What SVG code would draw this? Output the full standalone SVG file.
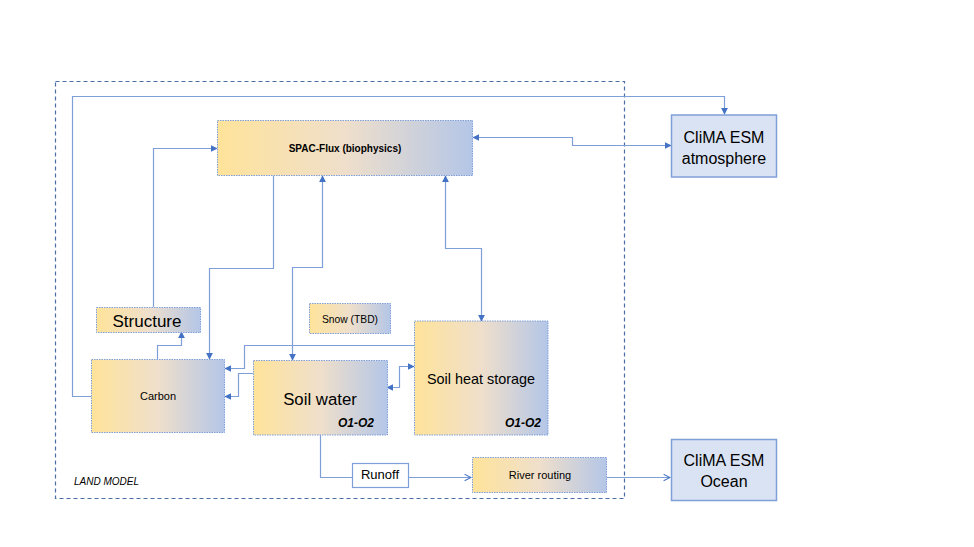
<svg xmlns="http://www.w3.org/2000/svg" width="974" height="547" viewBox="0 0 974 547">
<defs>
<linearGradient id="g" x1="0" y1="0" x2="1" y2="0">
<stop offset="0" stop-color="#ffe39a"/>
<stop offset="0.5" stop-color="#efdfcb"/>
<stop offset="1" stop-color="#b4c6e7"/>
</linearGradient>
<marker id="ah" viewBox="0 0 10 10" refX="9" refY="5" markerWidth="7" markerHeight="7" markerUnits="userSpaceOnUse" orient="auto-start-reverse">
<path d="M0,0 L10,5 L0,10 z" fill="#4472c4"/>
</marker>
<marker id="oa" viewBox="0 0 10 10" refX="9" refY="5" markerWidth="8" markerHeight="8" markerUnits="userSpaceOnUse" orient="auto">
<path d="M1,1 L9,5 L1,9" fill="none" stroke="#4472c4" stroke-width="1.3"/>
</marker>
<style>
.box{fill:url(#g);stroke:#7f9fd8;stroke-width:1;stroke-dasharray:1.5 1}
.esm{fill:#dae3f3;stroke:#7f9fd8;stroke-width:1.5}
.c{fill:none;stroke:#7f9fd8;stroke-width:1.2}
.t{font-family:"Liberation Sans",Arial,sans-serif;fill:#000;text-anchor:middle}
</style>
</defs>
<rect x="0" y="0" width="974" height="547" fill="#fff"/>
<rect x="55.5" y="81.5" width="569" height="417" fill="none" stroke="#4a6fa5" stroke-width="1.2" stroke-dasharray="4 3"/>
<text class="t" x="74" y="485" font-size="10" font-style="italic" text-anchor="start" style="text-anchor:start">LAND MODEL</text>

<g id="connectors">
<path class="c" d="M91,396.5 H72.5 V96.5 H724.5 V114" marker-end="url(#ah)"/>
<path class="c" d="M473,137.5 H572.5 V145.5 H671" marker-start="url(#ah)" marker-end="url(#ah)"/>
<path class="c" d="M153.5,307 V148.5 H217" marker-end="url(#ah)"/>
<path class="c" d="M273.5,176 V268.5 H209.5 V359" marker-end="url(#ah)"/>
<path class="c" d="M322.5,176 V267.5 H292.5 V360" marker-start="url(#ah)" marker-end="url(#ah)"/>
<path class="c" d="M445.5,176 V248.5 H481.5 V321" marker-start="url(#ah)" marker-end="url(#ah)"/>
<path class="c" d="M157.5,359 V345.5 H181.5 V332" marker-end="url(#ah)"/>
<path class="c" d="M414,345.5 H244.5 V368.5 H225" marker-end="url(#ah)"/>
<path class="c" d="M253,373.5 H238.5 V396.5 H225" marker-end="url(#ah)"/>
<path class="c" d="M387,387.5 H399.5 V366.5 H414" marker-start="url(#ah)" marker-end="url(#ah)"/>
<path class="c" d="M320.5,435 V477.5 H352"/>
<path class="c" d="M408,477.5 H471" marker-end="url(#oa)"/>
<path class="c" d="M607,477.5 H670" marker-end="url(#oa)"/>
</g>

<g id="spac">
<rect class="box" x="217.5" y="120.5" width="255" height="55"/>
<text class="t" x="345" y="152" font-size="10" font-weight="bold">SPAC-Flux (biophysics)</text>
</g>
<g id="atmosphere">
<rect class="esm" x="671.5" y="115" width="105" height="62"/>
<text class="t" x="724" y="143" font-size="16">CliMA ESM</text>
<text class="t" x="724" y="164" font-size="16">atmosphere</text>
</g>
<g id="structure">
<rect class="box" x="96.5" y="307.5" width="104" height="25"/>
<text class="t" x="147" y="327" font-size="17">Structure</text>
</g>
<g id="snow">
<rect class="box" x="309.5" y="303.5" width="81" height="30"/>
<text class="t" x="350" y="323" font-size="10.3">Snow (TBD)</text>
</g>
<g id="carbon">
<rect class="box" x="91.5" y="359.5" width="133" height="73"/>
<text class="t" x="158" y="400" font-size="11">Carbon</text>
</g>
<g id="soilwater">
<rect class="box" x="253.5" y="360.5" width="134" height="74.5"/>
<text class="t" x="320" y="405" font-size="16.8">Soil water</text>
<text class="t" x="356" y="427" font-size="12" font-weight="bold" font-style="italic">O1-O2</text>
</g>
<g id="soilheat">
<rect class="box" x="414.5" y="321" width="133.5" height="114"/>
<text class="t" x="481" y="384" font-size="14.4">Soil heat storage</text>
<text class="t" x="523" y="427" font-size="12" font-weight="bold" font-style="italic">O1-O2</text>
</g>
<g id="runoff">
<rect x="352.5" y="463.5" width="56" height="24" fill="#fff" stroke="#7f9fd8" stroke-width="1.2"/>
<text class="t" x="380" y="479" font-size="13">Runoff</text>
</g>
<g id="river">
<rect class="box" x="472.5" y="457.5" width="134" height="35"/>
<text class="t" x="540" y="479" font-size="11">River routing</text>
</g>
<g id="ocean">
<rect class="esm" x="671.5" y="439.5" width="105" height="61"/>
<text class="t" x="724" y="466" font-size="16">CliMA ESM</text>
<text class="t" x="724" y="487" font-size="16">Ocean</text>
</g>
</svg>
